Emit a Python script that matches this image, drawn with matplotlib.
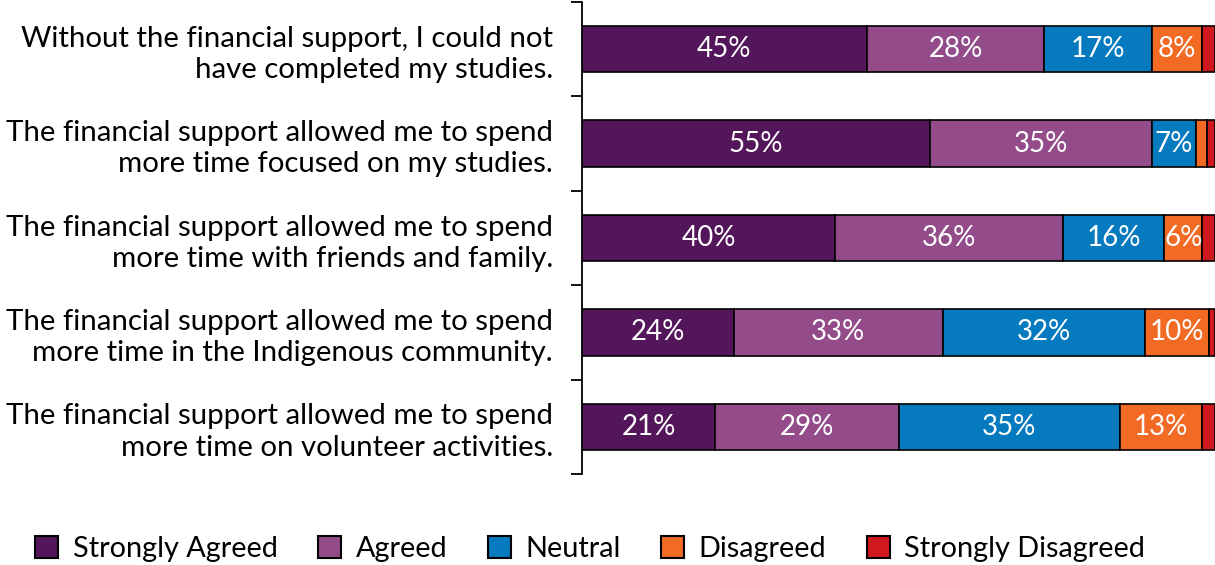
import matplotlib
matplotlib.use("Agg")
import matplotlib.pyplot as plt
from matplotlib.patches import Patch
import numpy as np

plt.rcParams['font.family'] = ['Lato', 'DejaVu Sans']

statements = [
    "Without the financial support, I could not\nhave completed my studies.",
    "The financial support allowed me to spend\nmore time focused on my studies.",
    "The financial support allowed me to spend\nmore time with friends and family.",
    "The financial support allowed me to spend\nmore time in the Indigenous community.",
    "The financial support allowed me to spend\nmore time on volunteer activities.",
]
responses = ["Strongly Agreed", "Agreed", "Neutral", "Disagreed", "Strongly Disagreed"]
strongly_agreed = [45, 55, 40, 24, 21]
agreed = [28, 35, 36, 33, 29]
neutral = [17, 7, 16, 32, 35]
disagreed = [8, 1.7, 6, 10, 13]
strongly_disagreed = [2, 1.3, 2, 1, 2]
colors = ["#54165A", "#934B89", "#057ABF", "#F26A24", "#D0191F"]

series = [strongly_agreed, agreed, neutral, disagreed, strongly_disagreed]

fig = plt.figure(figsize=(12.15, 5.65), dpi=100)
ax = fig.add_axes([582 / 1215, 1 - 474 / 565, 633 / 1215, 472 / 565])

y = np.arange(len(statements))
left = np.zeros(len(statements))
for vals, col, name in zip(series, colors, responses):
    vals = np.array(vals, dtype=float)
    ax.barh(y, vals, left=left, height=0.49, color=col,
            edgecolor="black", linewidth=1.2, label=name)
    for yi, v, l in zip(y, vals, left):
        if v >= 5:
            ax.text(l + v / 2, yi, f"{v:.0f}%", ha="center", va="center",
                    color="white", fontsize=20)
    left += vals

ax.set_xlim(0, 100)
ax.set_ylim(len(statements) - 0.5, -0.5)

for s in ["top", "right", "bottom"]:
    ax.spines[s].set_visible(False)
ax.spines["left"].set_linewidth(1.3)
ax.set_xticks([])

# boundary ticks between categories, labels at category centres
ax.set_yticks(np.arange(-0.5, len(statements)), labels=[])
ax.tick_params(axis="y", which="major", length=8, width=1.3, direction="out")
ax.set_yticks(y, labels=statements, minor=True)
ax.tick_params(axis="y", which="minor", length=0, pad=21, labelsize=21.2)
for lbl in ax.get_yticklabels(minor=True):
    lbl.set_linespacing(1.25)

handles = [Patch(facecolor=c, edgecolor="black", linewidth=1.5) for c in colors]
fig.legend(handles, responses, loc="center", bbox_to_anchor=(590 / 1215, 1 - 549 / 565),
           ncol=5, frameon=False, fontsize=20.8, handlelength=0.8, handleheight=0.8,
           handletextpad=0.5, columnspacing=1.4)

fig.savefig("out.png", dpi=100)
